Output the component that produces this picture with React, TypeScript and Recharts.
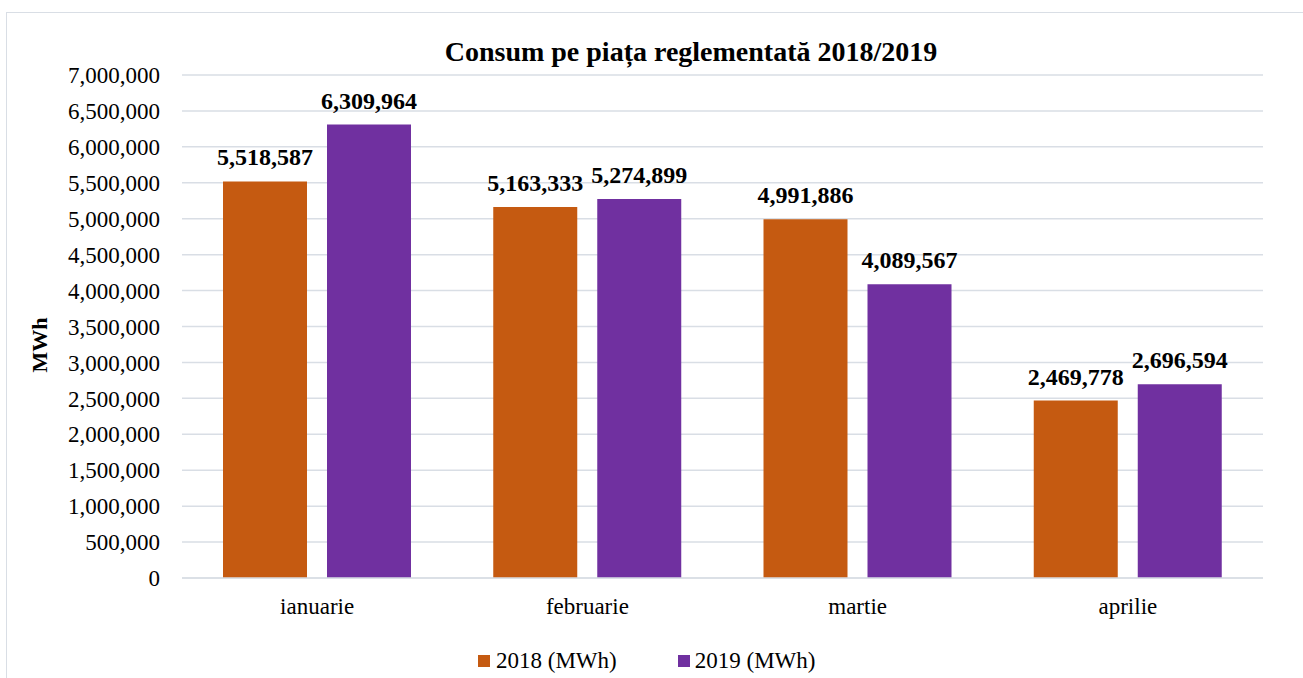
import React from "react";
import { BarChart, Bar, XAxis, YAxis, CartesianGrid, LabelList } from "recharts";

const months = ["ianuarie", "februarie", "martie", "aprilie"];
const values2018 = [5518587, 5163333, 4991886, 2469778];
const values2019 = [6309964, 5274899, 4089567, 2696594];
const yTicks = [0, 500000, 1000000, 1500000, 2000000, 2500000, 3000000, 3500000, 4000000, 4500000, 5000000, 5500000, 6000000, 6500000, 7000000];

const ORANGE = "#C55A11";
const PURPLE = "#7030A0";
const GRID = "#D9DEE5";
const FONT = "'Liberation Serif', 'Times New Roman', serif";

const data = months.map((m, i) => ({ month: m, y2018: values2018[i], y2019: values2019[i] }));

const fmt = (v: any) => Number(v).toLocaleString("en-US");

export default function App() {
  return (
    <div style={{ position: "absolute", left: 0, top: 0, width: 1303, height: 678, overflow: "hidden", background: "#fff", fontFamily: FONT }}>
      {/* frame */}
      <div style={{ position: "absolute", left: 6, top: 12, width: 1310, height: 700, border: `1.5px solid ${GRID}` }} />

      <div style={{ position: "absolute", left: 0, top: 37, width: 1382, textAlign: "center", fontSize: 28, fontWeight: "bold", color: "#000", lineHeight: "30px" }}>
        Consum pe piața reglementată 2018/2019
      </div>

      <div style={{ position: "absolute", left: 40, top: 345, transform: "translate(-50%, -50%) rotate(-90deg)", fontSize: 22, fontWeight: "bold", color: "#000", whiteSpace: "nowrap" }}>
        MWh
      </div>

      <div style={{ position: "absolute", left: 0, top: 0 }}>
        <BarChart
          width={1303}
          height={678}
          data={data}
          margin={{ top: 75, right: 40, bottom: 60, left: 0 }}
          barCategoryGap={41}
          barGap={20}
        >
          <CartesianGrid vertical={false} stroke={GRID} strokeWidth={1.5} />
          <XAxis
            dataKey="month"
            axisLine={{ stroke: GRID, strokeWidth: 1.5 }}
            tickLine={false}
            tickSize={0}
            tickMargin={20}
            height={40}
            tick={{ fill: "#000", fontSize: 23, fontFamily: FONT }}
          />
          <YAxis
            width={182}
            domain={[0, 7000000]}
            ticks={yTicks}
            tickFormatter={fmt}
            axisLine={false}
            tickLine={false}
            tickSize={0}
            tickMargin={22}
            interval={0}
            tick={{ fill: "#000", fontSize: 23, fontFamily: FONT }}
          />
          <Bar dataKey="y2018" fill={ORANGE} isAnimationActive={false}>
            <LabelList dataKey="y2018" position="top" offset={16} formatter={fmt} style={{ fill: "#000", fontSize: 24, fontWeight: "bold", fontFamily: FONT }} />
          </Bar>
          <Bar dataKey="y2019" fill={PURPLE} isAnimationActive={false}>
            <LabelList dataKey="y2019" position="top" offset={16} formatter={fmt} style={{ fill: "#000", fontSize: 24, fontWeight: "bold", fontFamily: FONT }} />
          </Bar>
        </BarChart>
      </div>

      {/* legend */}
      <div style={{ position: "absolute", left: 478, top: 648, display: "flex", alignItems: "center", fontSize: 23, color: "#000", lineHeight: "26px" }}>
        <span style={{ display: "inline-block", width: 12, height: 12, background: ORANGE, marginRight: 6 }} />
        <span>2018 (MWh)</span>
        <span style={{ display: "inline-block", width: 12, height: 12, background: PURPLE, marginLeft: 61, marginRight: 5 }} />
        <span>2019 (MWh)</span>
      </div>
    </div>
  );
}
